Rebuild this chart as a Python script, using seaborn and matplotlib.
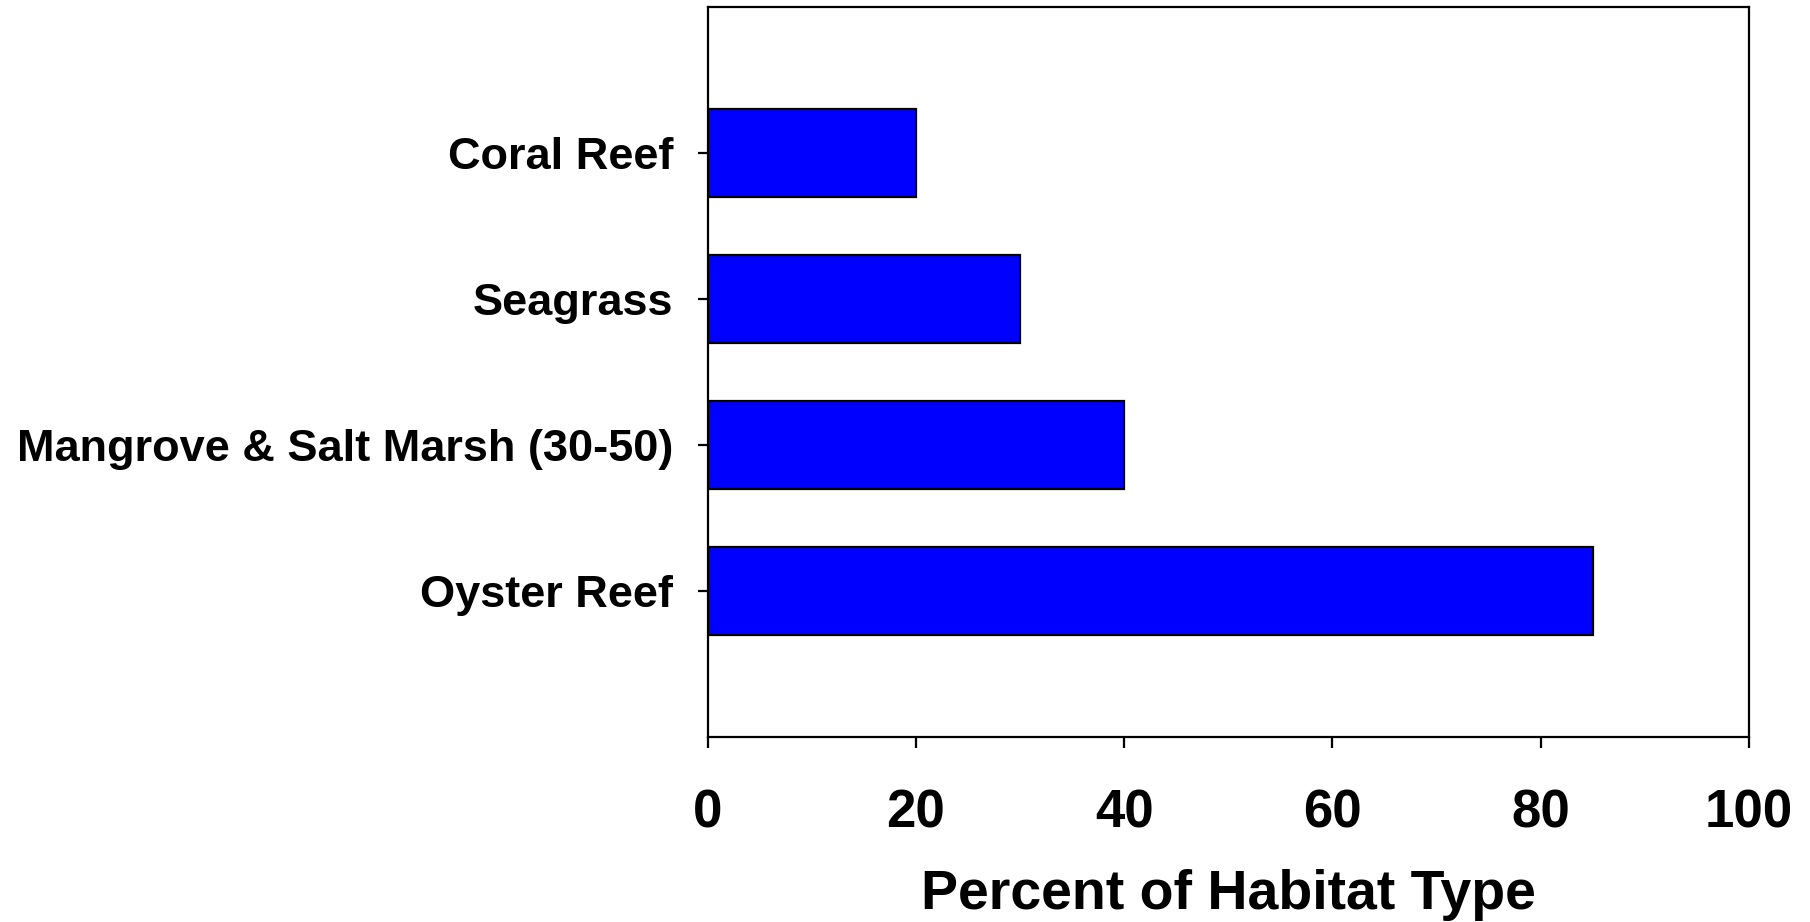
import matplotlib
matplotlib.use("Agg")
import matplotlib.pyplot as plt
import seaborn as sns
import pandas as pd

habitats = ["Coral Reef", "Seagrass", "Mangrove & Salt Marsh (30-50)", "Oyster Reef"]
percent_lost = [20, 30, 40, 85]
x_ticks = [0, 20, 40, 60, 80, 100]

sns.set_theme(style="white")
plt.rcParams["font.family"] = ["Liberation Sans", "DejaVu Sans"]
plt.rcParams["font.weight"] = "bold"
plt.rcParams["text.color"] = "black"
plt.rcParams["axes.labelcolor"] = "black"
plt.rcParams["xtick.color"] = "black"
plt.rcParams["ytick.color"] = "black"

df = pd.DataFrame({"habitat": habitats, "percent": percent_lost})

fig = plt.figure(figsize=(18.1, 9.22), dpi=100)
ax = fig.add_axes([0.391, 0.2007, 0.5753, 0.7917])

sns.barplot(data=df, x="percent", y="habitat", order=habitats, orient="h",
            color="#0000FF", saturation=1, width=0.6,
            edgecolor="black", linewidth=1.6, ax=ax)

ax.set_xlim(0, 100)
ax.set_ylim(4, -1)
ax.set_xticks(x_ticks)
ax.set_xticklabels([str(t) for t in x_ticks], fontsize=38, fontweight="bold",
                   color="black")
ax.set_yticks(range(len(habitats)))
ax.set_yticklabels(habitats, fontsize=32.5, fontweight="bold", color="black")
ax.set_xlabel("Percent of Habitat Type", fontsize=40, fontweight="bold",
              labelpad=22, color="black")
ax.set_ylabel("")

for side in ["left", "right", "top", "bottom"]:
    ax.spines[side].set_visible(True)
    ax.spines[side].set_color("black")
    ax.spines[side].set_linewidth(1.6)

ax.tick_params(axis="x", direction="out", length=8, width=1.6, color="black",
               labelcolor="black", pad=29, bottom=True)
ax.tick_params(axis="y", direction="out", length=7, width=1.6, color="black",
               labelcolor="black", pad=18, left=True)
ax.grid(False)

fig.savefig("out.png", dpi=100, facecolor="white")
